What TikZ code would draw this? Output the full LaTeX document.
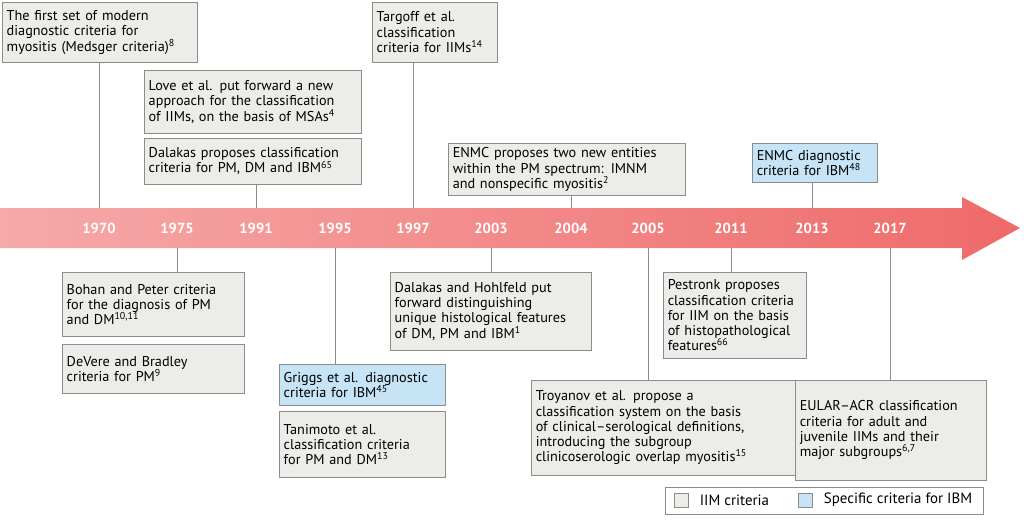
\documentclass[tikz,border=0pt]{standalone}
\usepackage{fontspec}
\setmainfont{PT Sans}
\usetikzlibrary{positioning}
\definecolor{boxgray}{HTML}{ECECE8}
\definecolor{boxblue}{HTML}{C6E4F6}
\definecolor{edge}{HTML}{8C8C8C}
\definecolor{bandL}{HTML}{F6A9A9}
\definecolor{bandR}{HTML}{EF6A6A}
\newcommand{\refsup}[1]{\textsuperscript{#1}}
\tikzset{
  box/.style={draw=edge, fill=boxgray, anchor=north west, align=left, inner sep=2.5pt,
    font=\fontsize{8.1}{8.7}\selectfont},
  ibm/.style={box, fill=boxblue},
  year/.style={text=white, font=\bfseries\fontsize{8.3}{9}\selectfont},
  stem/.style={draw=edge, line width=0.5pt}
}
\begin{document}
\begin{tikzpicture}[x=0.02cm, y=-0.02cm]
\useasboundingbox (0,0) rectangle (1024,524);

% Timeline arrow
\shade[left color=bandL, right color=bandR]
  (0,208) -- (962,208) -- (962,197) -- (1020,228) -- (962,260) -- (962,248) -- (0,248) -- cycle;

% Years
\foreach \yr/\xx in {1970/99, 1975/177, 1991/256, 1995/335, 1997/413, 2003/491,
                     2004/571, 2005/648, 2011/731, 2013/812, 2017/890}
  \node[year] (y\yr) at (\xx,228) {\yr};

% Boxes above
\node[box, text width=3.72cm, minimum height=1.2cm] (medsger) at (2,2)
  {The first set of modern\\diagnostic criteria for\\myositis (Medsger criteria)\refsup{8}};
\node[box, text width=4.16cm, minimum height=1.26cm] (love) at (144,70)
  {Love et al. put forward a new\\approach for the classification\\of IIMs, on the basis of MSAs\refsup{4}};
\node[box, text width=4.16cm, minimum height=0.92cm] (dalakas) at (144,138)
  {Dalakas proposes classification\\criteria for PM, DM and IBM\refsup{65}};
\node[box, text width=2.32cm, minimum height=1.2cm] (targoff) at (372,2)
  {Targoff et al.\\classification\\criteria for IIMs\refsup{14}};
\node[box, text width=4.56cm, minimum height=0.82cm] (enmcnew) at (448,143)
  {ENMC proposes two new entities\\within the PM spectrum: IMNM\\and nonspecific myositis\refsup{2}};
\node[ibm, text width=2.32cm, minimum height=0.78cm] (enmcibm) at (752,143)
  {ENMC diagnostic\\criteria for IBM\refsup{48}};

% Boxes below
\node[box, text width=3.46cm, minimum height=1.28cm] (bohan) at (62,272)
  {Bohan and Peter criteria\\for the diagnosis of PM\\and DM\refsup{10,11}};
\node[box, text width=3.46cm, minimum height=0.98cm] (devere) at (62,344)
  {DeVere and Bradley\\criteria for PM\refsup{9}};
\node[ibm, text width=3.14cm, minimum height=0.82cm] (griggs) at (279,364)
  {Griggs et al. diagnostic\\criteria for IBM\refsup{45}};
\node[box, text width=3.14cm, minimum height=1.32cm] (tanimoto) at (279,411)
  {Tanimoto et al.\\classification criteria\\for PM and DM\refsup{13}};
\node[box, text width=3.84cm, minimum height=1.56cm] (hohlfeld) at (390,272)
  {Dalakas and Hohlfeld put\\forward distinguishing\\unique histological features\\of DM, PM and IBM\refsup{1}};
\node[box, text width=5.34cm, minimum height=1.9cm] (troyanov) at (531,380)
  {Troyanov et al. propose a\\classification system on the basis\\of clinical--serological definitions,\\introducing the subgroup\\clinicoserologic overlap myositis\refsup{15}};
\node[box, text width=2.68cm, minimum height=1.72cm] (pestronk) at (663,272)
  {Pestronk proposes\\classification criteria\\for IIM on the basis\\of histopathological\\features\refsup{66}};
\node[box, text width=3.64cm, minimum height=2.0cm] (eular) at (795,380)
  {EULAR--ACR classification\\criteria for adult and\\juvenile IIMs and their\\major subgroups\refsup{6,7}};

% Stems
\draw[stem] (y1970 |- medsger.south) -- (99,208);
\draw[stem] (y1991 |- dalakas.south) -- (256,208);
\draw[stem] (y1997 |- targoff.south) -- (413,208);
\draw[stem] (y2004 |- enmcnew.south) -- (571,208);
\draw[stem] (y2013 |- enmcibm.south) -- (812,208);
\draw[stem] (177,248) -- (y1975 |- bohan.north);
\draw[stem] (335,248) -- (y1995 |- griggs.north);
\draw[stem] (491,248) -- (y2003 |- hohlfeld.north);
\draw[stem] (648,248) -- (y2005 |- troyanov.north);
\draw[stem] (731,248) -- (y2011 |- pestronk.north);
\draw[stem] (890,248) -- (y2017 |- eular.north);

% Legend
\node[draw=edge, fill=white, anchor=north west, minimum width=6.36cm, minimum height=0.54cm] (legend) at (665,487) {};
\node[draw=edge, fill=boxgray, minimum size=0.28cm, inner sep=0pt] (keyiim) at (681,500) {};
\node[right=3pt of keyiim, font=\fontsize{8.5}{9}\selectfont] (lbliim) {IIM criteria};
\node[draw=edge, fill=boxblue, minimum size=0.28cm, inner sep=0pt] (keyibm) at (805,500) {};
\node[right=3pt of keyibm, font=\fontsize{8.5}{9}\selectfont] (lblibm) {Specific criteria for IBM};
\end{tikzpicture}
\end{document}
